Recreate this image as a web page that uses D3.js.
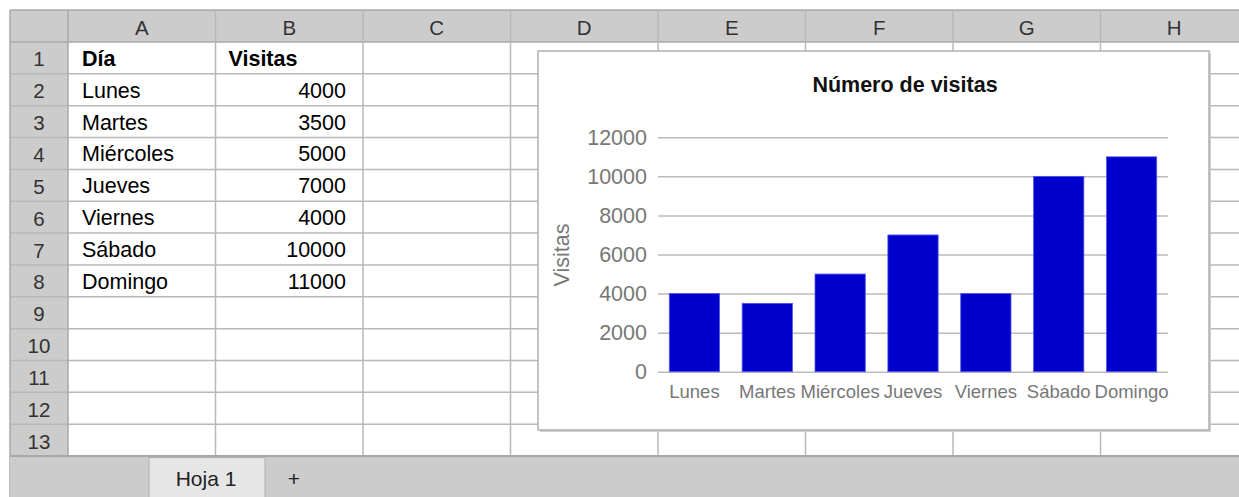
<!DOCTYPE html>
<html>
<head>
<meta charset="utf-8">
<script src="https://cdn.jsdelivr.net/npm/d3@7"></script>
<style>
  html, body { margin: 0; padding: 0; background: #fff; }
  svg { display: block; font-family: "Liberation Sans", Arial, sans-serif; }
</style>
</head>
<body>
<svg id="hoja" width="1239" height="497"></svg>
<script>
// datos de la hoja
const columnas = ["A", "B", "C", "D", "E", "F", "G", "H"];
const encabezados = ["Día", "Visitas"];
const dias = ["Lunes", "Martes", "Miércoles", "Jueves", "Viernes", "Sábado", "Domingo"];
const visitas = [4000, 3500, 5000, 7000, 4000, 10000, 11000];
const yTicks = [0, 2000, 4000, 6000, 8000, 10000, 12000];
const numFilas = 13;

const W = 1239, H = 497;
const sheetLeft = 10, sheetTop = 10, rowHdrW = 58, colW = 147.5, hdrH = 32, rowH = 31.85;
const gridBottom = sheetTop + hdrH + numFilas * rowH;
const gridColor = "#b8b8b8", hdrFill = "#cccccc", hdrLine = "#a8a8a8";

const svg = d3.select("#hoja");

const colX = i => sheetLeft + rowHdrW + i * colW;
const rowY = r => sheetTop + hdrH + (r - 1) * rowH;

// fondo de celdas
svg.append("rect").attr("x", sheetLeft).attr("y", sheetTop).attr("width", W - sheetLeft).attr("height", gridBottom - sheetTop).attr("fill", "#fff");

// cabecera de columnas y filas
svg.append("rect").attr("x", sheetLeft).attr("y", sheetTop).attr("width", W - sheetLeft).attr("height", hdrH).attr("fill", hdrFill);
svg.append("rect").attr("x", sheetLeft).attr("y", sheetTop).attr("width", rowHdrW).attr("height", gridBottom - sheetTop).attr("fill", hdrFill);

// lineas de la cuadricula
const filas = d3.range(1, numFilas + 1);
svg.append("g").selectAll("line").data(filas).join("line")
  .attr("x1", sheetLeft).attr("x2", W)
  .attr("y1", r => rowY(r) + rowH).attr("y2", r => rowY(r) + rowH)
  .attr("stroke", gridColor).attr("stroke-width", 1.5);
svg.append("line").attr("x1", sheetLeft).attr("x2", W).attr("y1", sheetTop + hdrH).attr("y2", sheetTop + hdrH)
  .attr("stroke", hdrLine).attr("stroke-width", 1.5);
svg.append("line").attr("x1", sheetLeft).attr("x2", W).attr("y1", sheetTop).attr("y2", sheetTop)
  .attr("stroke", hdrLine).attr("stroke-width", 1.5);
svg.append("g").selectAll("line").data(d3.range(columnas.length)).join("line")
  .attr("x1", i => colX(i + 1)).attr("x2", i => colX(i + 1))
  .attr("y1", sheetTop).attr("y2", gridBottom)
  .attr("stroke", gridColor).attr("stroke-width", 1.5);
svg.append("line").attr("x1", colX(0)).attr("x2", colX(0)).attr("y1", sheetTop).attr("y2", gridBottom)
  .attr("stroke", hdrLine).attr("stroke-width", 1.5);
svg.append("line").attr("x1", sheetLeft).attr("x2", sheetLeft).attr("y1", sheetTop).attr("y2", H)
  .attr("stroke", hdrLine).attr("stroke-width", 1.5);

// letras de columnas
svg.append("g").selectAll("text").data(columnas).join("text")
  .attr("x", (d, i) => colX(i) + colW / 2).attr("y", sheetTop + hdrH / 2 + 1)
  .attr("text-anchor", "middle").attr("dominant-baseline", "central")
  .attr("font-size", 20.5).attr("fill", "#333").text(d => d);
// numeros de filas
svg.append("g").selectAll("text").data(filas).join("text")
  .attr("x", sheetLeft + rowHdrW / 2).attr("y", r => rowY(r) + rowH / 2 + 1)
  .attr("text-anchor", "middle").attr("dominant-baseline", "central")
  .attr("font-size", 20.5).attr("fill", "#333").text(r => r);

// contenido de la tabla
const celdas = svg.append("g").attr("font-size", 21.5);
celdas.append("text").attr("x", colX(0) + 14).attr("y", rowY(1) + rowH / 2 + 1)
  .attr("dominant-baseline", "central").attr("font-weight", "bold").text(encabezados[0]);
celdas.append("text").attr("x", colX(1) + 13).attr("y", rowY(1) + rowH / 2 + 1)
  .attr("dominant-baseline", "central").attr("font-weight", "bold").text(encabezados[1]);
celdas.selectAll(".dia").data(dias).join("text").attr("class", "dia")
  .attr("x", colX(0) + 14).attr("y", (d, i) => rowY(i + 2) + rowH / 2 + 1)
  .attr("dominant-baseline", "central").text(d => d);
celdas.selectAll(".val").data(visitas).join("text").attr("class", "val")
  .attr("x", colX(2) - 17).attr("y", (d, i) => rowY(i + 2) + rowH / 2 + 1)
  .attr("text-anchor", "end").attr("dominant-baseline", "central").text(d => d);

// barra de pestañas
svg.append("rect").attr("x", sheetLeft).attr("y", gridBottom).attr("width", W - sheetLeft).attr("height", H - gridBottom)
  .attr("fill", hdrFill);
svg.append("line").attr("x1", sheetLeft).attr("x2", W).attr("y1", gridBottom).attr("y2", gridBottom)
  .attr("stroke", "#a8a8a8").attr("stroke-width", 2);
svg.append("rect").attr("x", 149).attr("y", gridBottom + 1.5).attr("width", 116).attr("height", H - gridBottom)
  .attr("fill", "#e6e6e6").attr("stroke", "#b0b0b0").attr("stroke-width", 1);
svg.append("text").attr("x", 206).attr("y", gridBottom + 22).attr("text-anchor", "middle")
  .attr("dominant-baseline", "central").attr("font-size", 21).attr("fill", "#222").text("Hoja 1");
svg.append("text").attr("x", 294).attr("y", gridBottom + 22).attr("text-anchor", "middle")
  .attr("dominant-baseline", "central").attr("font-size", 21).attr("fill", "#222").text("+");

// grafico incrustado
const box = {x: 538, y: 51, w: 671, h: 379};
svg.append("rect").attr("x", box.x + 2).attr("y", box.y + 2).attr("width", box.w).attr("height", box.h)
  .attr("fill", "#d0d0d0");
svg.append("rect").attr("x", box.x).attr("y", box.y).attr("width", box.w).attr("height", box.h)
  .attr("fill", "#fff").attr("stroke", "#b0b0b0").attr("stroke-width", 1.5);

const plot = {x0: 658, x1: 1168, y0: 371.7, y1: 137.3};
const x = d3.scaleBand().domain(dias).range([plot.x0, plot.x1]).paddingInner(0.31).paddingOuter(0.155);
const y = d3.scaleLinear().domain([0, 12000]).range([plot.y0, plot.y1]);

const chart = svg.append("g");
chart.append("text").attr("x", 905).attr("y", 85).attr("text-anchor", "middle")
  .attr("dominant-baseline", "central").attr("font-size", 21.5).attr("font-weight", "bold")
  .attr("fill", "#111").text("Número de visitas");

const yAxis = chart.append("g").attr("transform", `translate(${plot.x0},0)`)
  .call(d3.axisLeft(y).tickValues(yTicks).tickSize(-(plot.x1 - plot.x0)).tickPadding(11).tickFormat(d3.format("d")));
yAxis.select(".domain").remove();
yAxis.selectAll(".tick line").attr("stroke", "#bbbbbb").attr("stroke-width", 1.5);
yAxis.selectAll(".tick text").attr("font-size", 21.5).attr("fill", "#777").attr("font-family", null);

chart.append("g").selectAll("rect").data(dias).join("rect")
  .attr("x", d => x(d)).attr("width", x.bandwidth())
  .attr("y", (d, i) => y(visitas[i])).attr("height", (d, i) => y(0) - y(visitas[i]))
  .attr("fill", "#0000cc").attr("stroke", "#5555ee").attr("stroke-width", 0.8);

const xAxis = chart.append("g").attr("transform", `translate(0,${plot.y0})`)
  .call(d3.axisBottom(x).tickSize(0).tickPadding(13));
xAxis.select(".domain").remove();
xAxis.selectAll(".tick text").attr("font-size", 18.5).attr("fill", "#777").attr("font-family", null);

chart.append("text").attr("transform", `translate(562,255) rotate(-90)`)
  .attr("text-anchor", "middle").attr("dominant-baseline", "central")
  .attr("font-size", 21.5).attr("fill", "#777").text("Visitas");
</script>
</body>
</html>
